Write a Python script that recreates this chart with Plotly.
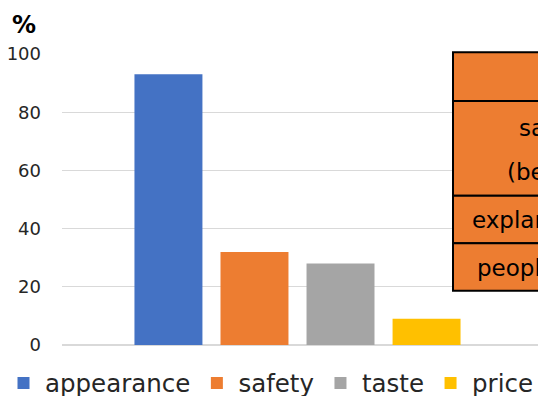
import plotly.graph_objects as go

series = ["appearance", "safety", "taste", "price"]
values = [93, 32, 28, 9]
colors = ["#4472C4", "#ED7D31", "#A5A5A5", "#FFC000"]
y_ticks = [0, 20, 40, 60, 80, 100]
table_texts = ["safety", "(best-before date)", "explanation", "people"]

W, H = 538, 396
L, R, T, B = 62, 0, 54, 51
pw, ph = W - L - R, H - T - B

def px(x):
    return (x - L) / pw

def py(y):
    return (H - B - y) / ph

fig = go.Figure()
for name, v, c in zip(series, values, colors):
    fig.add_trace(go.Bar(x=["all"], y=[v], name=name, marker_color=c,
                         marker_line_width=0))

# bar group placement (plot area wider than the visible bar region)
shift = 2.5 / pw
fig.update_layout(
    width=W, height=H,
    margin=dict(l=L, r=R, t=T, b=B, pad=0, autoexpand=False),
    paper_bgcolor="white", plot_bgcolor="white",
    barmode="group", bargap=0.277, bargroupgap=0.21,
    font=dict(family="DejaVu Sans", color="#262626"),
    showlegend=True,
    legend=dict(orientation="h", x=px(2), xanchor="left", y=py(383), yanchor="middle",
                font=dict(size=24.5, color="#262626"), traceorder="normal",
                itemwidth=33, bgcolor="rgba(0,0,0,0)"),
    xaxis=dict(showticklabels=False, showgrid=False, zeroline=False, showline=False,
               ticks="", range=[-0.5 + shift, 0.5 + shift]),
    yaxis=dict(range=[0, 100], tickvals=y_ticks, showgrid=True, gridcolor="#D9D9D9",
               gridwidth=1, zeroline=True, zerolinecolor="#D9D9D9", showline=False,
               ticks="", ticklabelstandoff=20, tickfont=dict(size=18, color="#262626")),
)

fig.add_annotation(text="<b>%</b>", xref="paper", yref="paper", x=px(24), y=py(25),
                   xanchor="center", yanchor="middle", showarrow=False,
                   font=dict(size=24, color="black"))

# table box
row_lines = [52.3, 101, 195.7, 243.3, 290.7]
for top, bot in zip(row_lines[:-1], row_lines[1:]):
    fig.add_shape(type="rect", xref="paper", yref="paper",
                  x0=px(453), x1=px(620), y0=py(bot), y1=py(top),
                  fillcolor="#ED7D31", line=dict(color="black", width=2), layer="above")

text_pos = [(517, 128), (505, 172), (470, 220), (475, 268)]
for txt, (tx, ty) in zip(table_texts, text_pos):
    fig.add_annotation(text=txt, xref="paper", yref="paper", x=px(tx), y=py(ty),
                       xanchor="left", yanchor="middle", showarrow=False, align="left",
                       font=dict(size=23, color="black"))

fig.write_html("out.html")
